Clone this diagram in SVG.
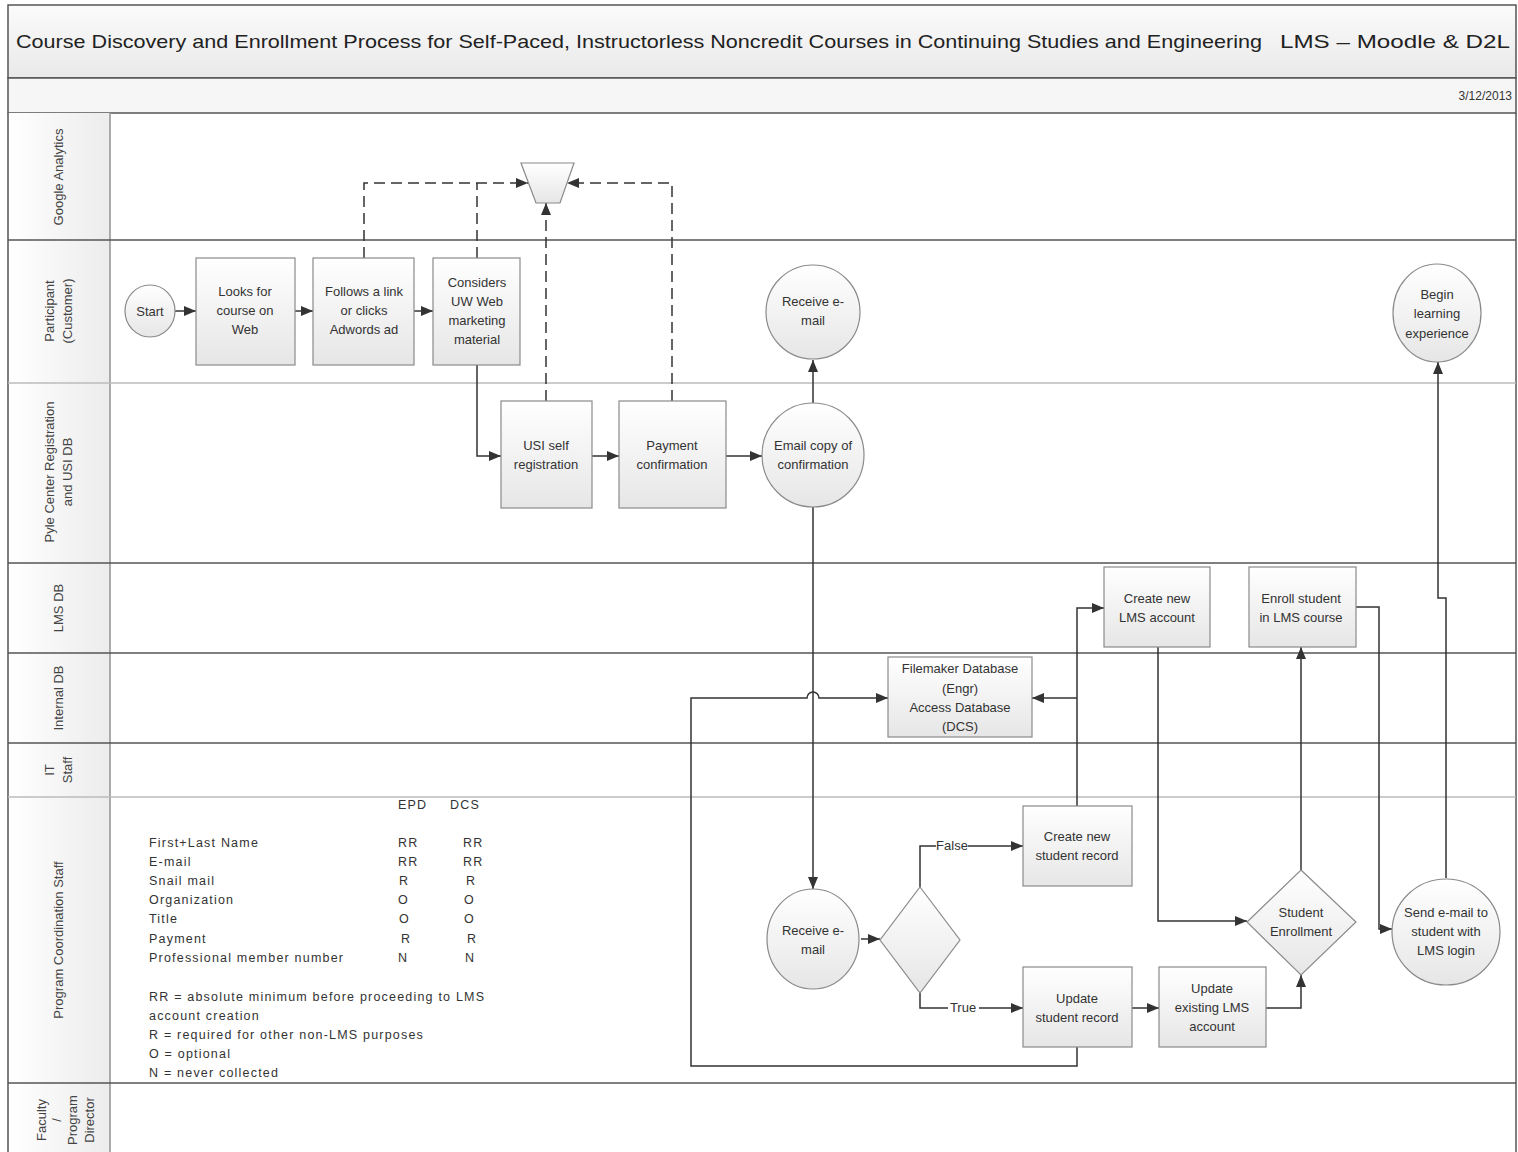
<svg xmlns="http://www.w3.org/2000/svg" width="1518" height="1152" viewBox="0 0 1518 1152">
<defs>
<linearGradient id="g" x1="0" y1="0" x2="0" y2="1"><stop offset="0" stop-color="#ffffff"/><stop offset="1" stop-color="#e6e6e6"/></linearGradient>
<linearGradient id="gh" x1="0" y1="0" x2="1" y2="0"><stop offset="0" stop-color="#ffffff"/><stop offset="1" stop-color="#ececec"/></linearGradient>
<linearGradient id="gt" x1="0" y1="0" x2="0" y2="1"><stop offset="0" stop-color="#fbfbfb"/><stop offset="1" stop-color="#e9e9e9"/></linearGradient>
<marker id="a" markerWidth="12" markerHeight="10" refX="12" refY="5" orient="auto" markerUnits="userSpaceOnUse"><path d="M0,0 L12,5 L0,10 Z" fill="#333"/></marker>
<style>
.n{fill:url(#g);stroke:#8a8a8a;stroke-width:1.2}
.t{font-family:"Liberation Sans",Arial,sans-serif;font-size:13px;fill:#333;text-anchor:middle}
.l{font-family:"Liberation Sans",Arial,sans-serif;font-size:12.5px;fill:#333;letter-spacing:1.2px}
.h{font-family:"Liberation Sans",Arial,sans-serif;font-size:13px;fill:#444;text-anchor:middle}
.c{fill:none;stroke:#333;stroke-width:1.5}
.d{fill:none;stroke:#333;stroke-width:1.5;stroke-dasharray:11,6}
.dk{stroke:#555;stroke-width:1.5}
.lt{stroke:#bbb;stroke-width:1.5}
</style>
</defs>
<rect width="1518" height="1152" fill="#fff"/>
<g id="frame">
<rect x="8" y="5" width="1508" height="73" fill="url(#gt)" stroke="#555" stroke-width="1.5"/>
<rect x="8" y="78" width="1508" height="35" fill="#f6f6f6" stroke="#555" stroke-width="1.5"/>
<text x="16" y="48" font-family="Liberation Sans,Arial,sans-serif" font-size="19" fill="#222" textLength="1246" lengthAdjust="spacingAndGlyphs">Course Discovery and Enrollment Process for Self-Paced, Instructorless Noncredit Courses in Continuing Studies and Engineering</text>
<text x="1280" y="48" font-family="Liberation Sans,Arial,sans-serif" font-size="19" fill="#222" textLength="230" lengthAdjust="spacingAndGlyphs">LMS – Moodle &amp; D2L</text>
<text x="1512" y="100" font-family="Liberation Sans,Arial,sans-serif" font-size="12" fill="#333" text-anchor="end">3/12/2013</text>
<rect x="8" y="113" width="102" height="1045" fill="url(#gh)"/>
<line x1="8" y1="113" x2="8" y2="1152" class="dk"/>
<line x1="1516" y1="113" x2="1516" y2="1152" class="dk"/>
<line x1="110" y1="113" x2="110" y2="1152" stroke="#aaa" stroke-width="2"/>
<line x1="8" y1="240" x2="1516" y2="240" class="dk"/>
<line x1="8" y1="383" x2="1516" y2="383" class="lt"/>
<line x1="8" y1="563" x2="1516" y2="563" class="dk"/>
<line x1="8" y1="653" x2="1516" y2="653" class="dk"/>
<line x1="8" y1="743" x2="1516" y2="743" class="dk"/>
<line x1="8" y1="797" x2="1516" y2="797" class="lt"/>
<line x1="8" y1="1083" x2="1516" y2="1083" class="dk"/>
</g>
<g id="lanes">
<text class="h" transform="translate(63,177) rotate(-90)">Google Analytics</text>
<text class="h" transform="translate(54,311) rotate(-90)">Participant</text>
<text class="h" transform="translate(72,311) rotate(-90)">(Customer)</text>
<text class="h" transform="translate(54,472) rotate(-90)">Pyle Center Registration</text>
<text class="h" transform="translate(72,472) rotate(-90)">and USI DB</text>
<text class="h" transform="translate(63,608) rotate(-90)">LMS DB</text>
<text class="h" transform="translate(63,698) rotate(-90)">Internal DB</text>
<text class="h" transform="translate(54,770) rotate(-90)">IT</text>
<text class="h" transform="translate(72,770) rotate(-90)">Staff</text>
<text class="h" transform="translate(63,940) rotate(-90)">Program Coordination Staff</text>
<text class="h" transform="translate(46,1120) rotate(-90)">Faculty</text>
<text class="h" transform="translate(61,1120) rotate(-90)">/</text>
<text class="h" transform="translate(77,1120) rotate(-90)">Program</text>
<text class="h" transform="translate(94,1120) rotate(-90)">Director</text>
</g>
<g id="connectors">
<path class="c" d="M175,311 H196" marker-end="url(#a)"/>
<path class="c" d="M295,311 H313" marker-end="url(#a)"/>
<path class="c" d="M414,311 H433" marker-end="url(#a)"/>
<path class="d" d="M364,258 V183 H528" marker-end="url(#a)"/>
<path class="d" d="M477,258 V183"/>
<path class="d" d="M546,401 V203" marker-end="url(#a)"/>
<path class="d" d="M672,401 V183 H567" marker-end="url(#a)"/>
<path class="c" d="M477,365 V456 H501" marker-end="url(#a)"/>
<path class="c" d="M592,456 H619" marker-end="url(#a)"/>
<path class="c" d="M726,456 H762" marker-end="url(#a)"/>
<path class="c" d="M813,403 V360" marker-end="url(#a)"/>
<path class="c" d="M813,507 V889" marker-end="url(#a)"/>
<path class="c" d="M861,939 H880" marker-end="url(#a)"/>
<path class="c" d="M920,887 V846 H1023" marker-end="url(#a)"/>
<path class="c" d="M920,993 V1008 H1023" marker-end="url(#a)"/>
<path class="c" d="M1132,1008 H1159" marker-end="url(#a)"/>
<path class="c" d="M1077,1047 V1066 H691 V698 H807 A6,6 0 0 1 819,698 H888" marker-end="url(#a)"/>
<path class="c" d="M1077,806 V608 H1104" marker-end="url(#a)"/>
<path class="c" d="M1077,698 H1032" marker-end="url(#a)"/>
<path class="c" d="M1158,647 V921 H1247" marker-end="url(#a)"/>
<path class="c" d="M1266,1008 H1301 V975" marker-end="url(#a)"/>
<path class="c" d="M1301,870 V647" marker-end="url(#a)"/>
<path class="c" d="M1356,607 H1379 V929 H1392" marker-end="url(#a)"/>
<path class="c" d="M1446,878 V598 H1438 V362" marker-end="url(#a)"/>
<rect x="936" y="838" width="32" height="15" fill="#fff"/>
<text class="t" x="952" y="850">False</text>
<rect x="948" y="1000" width="31" height="15" fill="#fff"/>
<text class="t" x="963" y="1012">True</text>
</g>
<g id="start"><ellipse class="n" cx="150" cy="311" rx="25" ry="26"/><text class="t" x="150" y="316">Start</text></g>
<g id="looks"><rect class="n" x="196" y="258" width="99" height="107"/><text class="t" x="245" y="296">Looks for</text><text class="t" x="245" y="315">course on</text><text class="t" x="245" y="334">Web</text></g>
<g id="follows"><rect class="n" x="313" y="258" width="101" height="107"/><text class="t" x="364" y="296">Follows a link</text><text class="t" x="364" y="315">or clicks</text><text class="t" x="364" y="334">Adwords ad</text></g>
<g id="considers"><rect class="n" x="433" y="258" width="87" height="107"/><text class="t" x="477" y="287">Considers</text><text class="t" x="477" y="306">UW Web</text><text class="t" x="477" y="325">marketing</text><text class="t" x="477" y="344">material</text></g>
<g id="ga"><path class="n" d="M521,163 H574 L560,203 H536 Z"/></g>
<g id="usi"><rect class="n" x="501" y="401" width="91" height="107"/><text class="t" x="546" y="450">USI self</text><text class="t" x="546" y="469">registration</text></g>
<g id="payment"><rect class="n" x="619" y="401" width="107" height="107"/><text class="t" x="672" y="450">Payment</text><text class="t" x="672" y="469">confirmation</text></g>
<g id="emailcopy"><ellipse class="n" cx="813" cy="455" rx="51" ry="52"/><text class="t" x="813" y="450">Email copy of</text><text class="t" x="813" y="469">confirmation</text></g>
<g id="receive1"><ellipse class="n" cx="813" cy="312" rx="47" ry="47"/><text class="t" x="813" y="306">Receive e-</text><text class="t" x="813" y="325">mail</text></g>
<g id="begin"><ellipse class="n" cx="1437" cy="313" rx="44" ry="49"/><text class="t" x="1437" y="299">Begin</text><text class="t" x="1437" y="318">learning</text><text class="t" x="1437" y="338">experience</text></g>
<g id="createlms"><rect class="n" x="1104" y="567" width="106" height="80"/><text class="t" x="1157" y="603">Create new</text><text class="t" x="1157" y="622">LMS account</text></g>
<g id="enroll"><rect class="n" x="1249" y="567" width="107" height="80"/><text class="t" x="1301" y="603">Enroll student</text><text class="t" x="1301" y="622">in LMS course</text></g>
<g id="filemaker"><rect class="n" x="888" y="657" width="144" height="80"/><text class="t" x="960" y="673">Filemaker Database</text><text class="t" x="960" y="693">(Engr)</text><text class="t" x="960" y="712">Access Database</text><text class="t" x="960" y="731">(DCS)</text></g>
<g id="createrec"><rect class="n" x="1023" y="806" width="109" height="80"/><text class="t" x="1077" y="841">Create new</text><text class="t" x="1077" y="860">student record</text></g>
<g id="receive2"><ellipse class="n" cx="813" cy="939" rx="46" ry="50"/><text class="t" x="813" y="935">Receive e-</text><text class="t" x="813" y="954">mail</text></g>
<g id="decision"><path class="n" d="M920,887 L960,940 L920,993 L880,940 Z"/></g>
<g id="updaterec"><rect class="n" x="1023" y="967" width="109" height="80"/><text class="t" x="1077" y="1003">Update</text><text class="t" x="1077" y="1022">student record</text></g>
<g id="updatelms"><rect class="n" x="1159" y="967" width="107" height="80"/><text class="t" x="1212" y="993">Update</text><text class="t" x="1212" y="1012">existing LMS</text><text class="t" x="1212" y="1031">account</text></g>
<g id="studentenroll"><path class="n" d="M1301,870 L1356,922 L1301,975 L1247,922 Z"/><text class="t" x="1301" y="917">Student</text><text class="t" x="1301" y="936">Enrollment</text></g>
<g id="sendemail"><ellipse class="n" cx="1446" cy="932" rx="54" ry="53"/><text class="t" x="1446" y="917">Send e-mail to</text><text class="t" x="1446" y="936">student with</text><text class="t" x="1446" y="955">LMS login</text></g>
<g id="legend">
<text class="l" x="398" y="809">EPD</text><text class="l" x="450" y="809">DCS</text>
<text class="l" x="149" y="847">First+Last Name</text><text class="l" x="398" y="847">RR</text><text class="l" x="463" y="847">RR</text>
<text class="l" x="149" y="866">E-mail</text><text class="l" x="398" y="866">RR</text><text class="l" x="463" y="866">RR</text>
<text class="l" x="149" y="885">Snail mail</text><text class="l" x="399" y="885">R</text><text class="l" x="466" y="885">R</text>
<text class="l" x="149" y="904">Organization</text><text class="l" x="398" y="904">O</text><text class="l" x="464" y="904">O</text>
<text class="l" x="149" y="923">Title</text><text class="l" x="399" y="923">O</text><text class="l" x="464" y="923">O</text>
<text class="l" x="149" y="943">Payment</text><text class="l" x="401" y="943">R</text><text class="l" x="467" y="943">R</text>
<text class="l" x="149" y="962">Professional member number</text><text class="l" x="398" y="962">N</text><text class="l" x="465" y="962">N</text>
<text class="l" x="149" y="1001">RR = absolute minimum before proceeding to LMS</text>
<text class="l" x="149" y="1020">account creation</text>
<text class="l" x="149" y="1039">R = required for other non-LMS purposes</text>
<text class="l" x="149" y="1058">O = optional</text>
<text class="l" x="149" y="1077">N = never collected</text>
</g>
</svg>
